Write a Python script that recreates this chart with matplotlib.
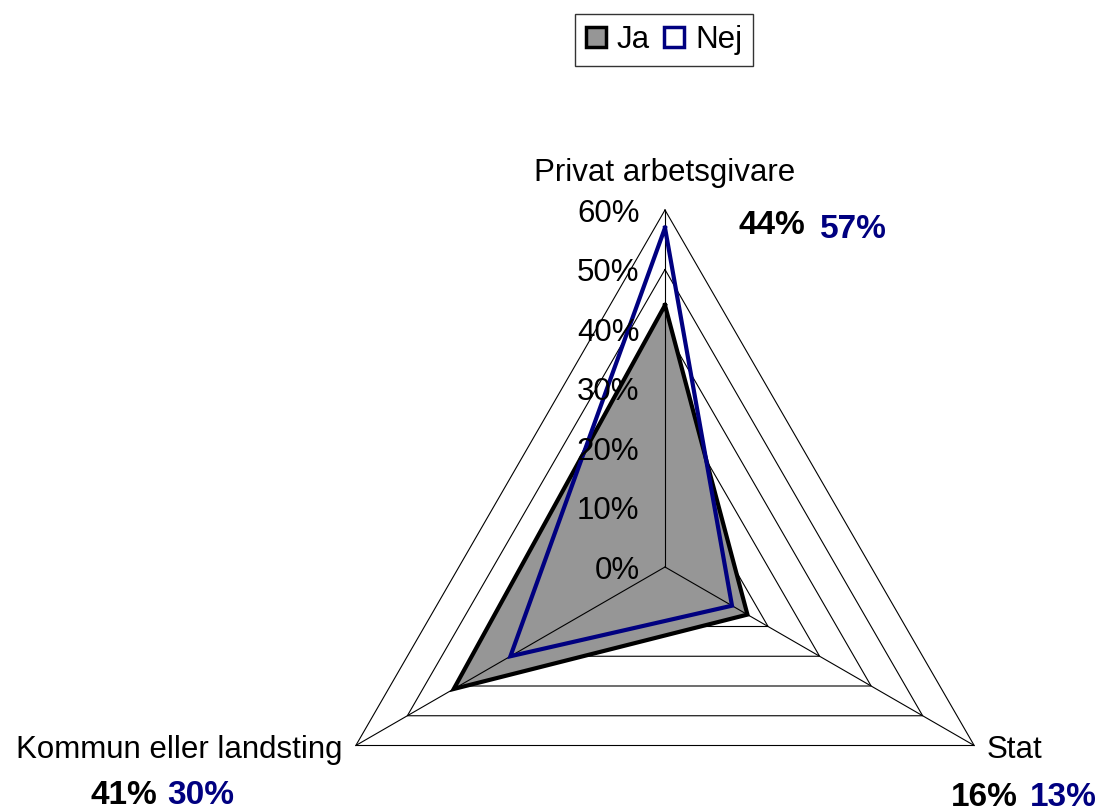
import numpy as np
import matplotlib
matplotlib.use('Agg')
import matplotlib.pyplot as plt
from matplotlib.patches import Patch

plt.rcParams['font.family'] = ['Liberation Sans', 'DejaVu Sans']

#%% Data
categories = ['Privat arbetsgivare', 'Stat', 'Kommun eller landsting']
ja = [44, 16, 41]
nej = [57, 13, 30]
levels = [0, 10, 20, 30, 40, 50, 60]

#%% Geometry
W, H = 1103, 811
CX, CY = 665, 567            # centre in pixels
PX = 357 / 60                # pixels per percent
angles = np.deg2rad([90, -30, 210])

def xy(vals):
    v = np.asarray(vals, float)
    x = v * np.cos(angles)
    y = v * np.sin(angles)
    return np.append(x, x[0]), np.append(y, y[0])

fig = plt.figure(figsize=(W / 100, H / 100), dpi=100)
ax = fig.add_axes([0, 0, 1, 1])
ax.set_xlim(-CX / PX, (W - CX) / PX)
ax.set_ylim(-(H - CY) / PX, CY / PX)
ax.axis('off')

# ring grid (under the fill)
for lv in levels[1:]:
    gx, gy = xy([lv] * 3)
    ax.plot(gx, gy, color='black', lw=0.8, zorder=1)

# Ja: filled, black edge
jx, jy = xy(ja)
ax.fill(jx, jy, facecolor='#969696', edgecolor='none', zorder=2)

# spokes over the fill
for a in angles:
    ax.plot([0, 60 * np.cos(a)], [0, 60 * np.sin(a)], color='black', lw=0.8, zorder=3)

ax.plot(jx, jy, color='black', lw=3, solid_joinstyle='miter', zorder=4)
nx, ny = xy(nej)
ax.plot(nx, ny, color='#000080', lw=3, solid_joinstyle='miter', zorder=5)

# axis tick labels along the top spoke
for lv in levels:
    ax.text(-4.3, lv - 0.6, f'{lv}%', ha='right', va='center', fontsize=22.5, zorder=6)

# category labels and values
def ftxt(x, y, s, **kw):
    fig.text(x / W, 1 - y / H, s, **kw)

ftxt(665, 173, categories[0], ha='center', va='center', fontsize=22.5)
ftxt(805, 226, f'{ja[0]}%', ha='right', va='center', fontsize=24, fontweight='bold')
ftxt(820, 229, f'{nej[0]}%', ha='left', va='center', fontsize=24, fontweight='bold', color='#000080')

ftxt(1042, 750, categories[1], ha='right', va='center', fontsize=22.5)
ftxt(1018, 797, f'{ja[1]}%', ha='right', va='center', fontsize=24, fontweight='bold')
ftxt(1030, 797, f'{nej[1]}%', ha='left', va='center', fontsize=24, fontweight='bold', color='#000080')

ftxt(343, 750, categories[2], ha='right', va='center', fontsize=22.5)
ftxt(157, 795, f'{ja[2]}%', ha='right', va='center', fontsize=24, fontweight='bold')
ftxt(167, 795, f'{nej[2]}%', ha='left', va='center', fontsize=24, fontweight='bold', color='#000080')

# legend
handles = [Patch(facecolor='#969696', edgecolor='black', lw=2.5, label='Ja'),
           Patch(facecolor='white', edgecolor='#000080', lw=2.5, label='Nej')]
leg = fig.legend(handles=handles, loc='upper center', bbox_to_anchor=(664 / W, 1 - 14 / H),
                 ncol=2, fontsize=22.5, frameon=True, fancybox=False,
                 handlelength=0.65, handleheight=0.65, handletextpad=0.35,
                 columnspacing=0.45, borderpad=0.35, borderaxespad=0)
leg.get_frame().set_edgecolor('black')
leg.get_frame().set_linewidth(1)

fig.savefig('out.png', dpi=100)
